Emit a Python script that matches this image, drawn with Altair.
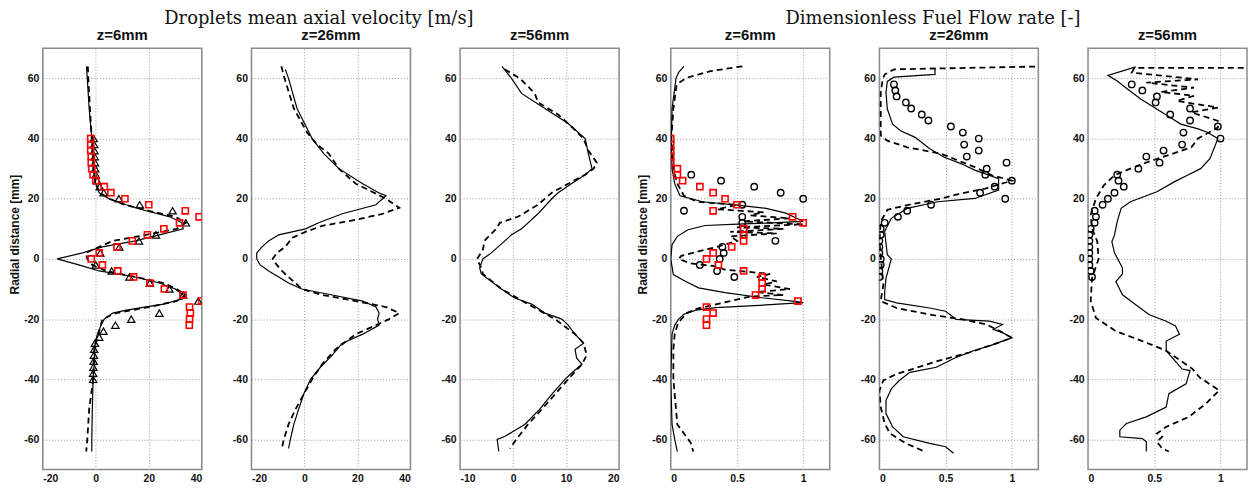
import altair as alt
import pandas as pd

# ---------------- Panel 1: droplet velocity, z=6mm ----------------
p1_solid_x = [-3.5, -3.2, -2.5, -1.5, -1, 0, 1.3, 5, 11.5, 19, 28, 32.5, 33, 24, 15, 2.5, -5, -14.6, -6.4, 1.3, 15, 24, 30, 33, 34, 25.5, 11.5, 6.4, 3.2, 2, 0.6, -0.3, -0.6, -1, -1.3, -1.5, -1.5]
p1_solid_y = [64, 60, 50, 40, 30, 25, 22, 20, 18, 16, 14, 12, 10, 8, 6, 4, 2, 0, -2, -4, -6, -8, -10, -12, -13, -15, -17, -18, -20, -22, -25, -28, -35, -40, -50, -60, -64]
p1_dash_x = [-3, -2.8, -2.2, -1.5, -0.8, 0, 1.5, 5, 11, 20, 30, 34, 30.5, 19, 6.4, 1.3, -3.8, -3.2, -1.3, 4, 15, 25.5, 30.5, 34, 30.5, 20, 7.6, 2.5, 1, -0.6, -1, -2.5, -3.2, -3.6]
p1_dash_y = [64, 60, 50, 40, 30, 25, 22, 20, 18, 16, 14, 12, 10, 8, 6, 4, 2, 0, -2, -4, -6, -8, -10, -12, -14, -16, -18, -20, -25, -30, -40, -50, -60, -64]
p1_tri_x = [-0.8, -0.6, -0.5, -0.4, -0.3, -0.2, 0, 0.5, 1.5, 3, 8.7, 16.6, 29, 34, 22.7, 16.3, 8.9, 1.7, 0, 6, 12.7, 20.4, 27.8, 33, 38.7, 24, 13.4, 7.4, 2.9, 1.3, -0.3, -0.6, -0.7, -0.8, -0.9, -1, -1]
p1_tri_y = [40, 38, 36, 34, 32, 30, 28, 26, 24, 22, 20, 18, 16, 12, 8, 6, 4, 2, -2, -4, -6, -8, -10, -12, -14, -18, -20, -22, -24, -26, -28, -30, -32, -34, -36, -38, -40]
p1_sq_x = [-1.9, -1.9, -1.9, -1.7, -1.7, -1.5, -1, 0, 3.2, 5.7, 11, 20, 33.8, 39, 31.6, 25.7, 19.5, 13.8, 8, 1.3, -1.7, 2.5, 8.3, 14.3, 20.4, 25.9, 32.9, 40, 35.4, 35.7, 35.4, 35.3]
p1_sq_y = [40, 38, 36, 34, 32, 30, 28, 26, 24, 22, 20, 18, 16, 14, 12, 10, 8, 6, 4, 2, 0, -2, -4, -6, -8, -10, -12, -14, -16, -18, -20, -22]

# ---------------- Panel 2: droplet velocity, z=26mm ----------------
p2_solid_x = [-7.2, -6, -2.8, 2.9, 7.3, 13, 22, 28, 30.8, 27, 14.3, 5.4, 0.4, -9.7, -13.5, -16, -18, -18, -16.7, -13.5, -9.7, -6, -1, 10.5, 22, 27, 28.2, 27.6, 28.2, 22, 14.3, 10.5, 6, 2.3, -0.3, -2.2, -4, -5.3, -6]
p2_solid_y = [63, 60, 50, 40, 35, 30, 25, 22, 21, 18, 15, 12, 10, 8, 6, 4, 2, 0, -2, -4, -6, -8, -10, -12, -14, -16, -18, -20, -22, -25, -28, -32, -36, -40, -45, -50, -55, -60, -63]
p2_dash_x = [-8.7, -7.5, -4, 1, 4.8, 9.2, 13, 19.4, 30.8, 35.8, 29.5, 19.4, 6.7, 0.4, -4.7, -7.2, -10.4, -12, -10.4, -8.5, -6, -3.4, -1, 6.7, 19.4, 30.8, 35.8, 32, 27, 19.4, 11.8, 6.7, 2.9, -0.3, -3.4, -6, -7.8, -8.5]
p2_dash_y = [64, 60, 50, 42, 38, 35, 30, 25, 20, 17, 15, 13, 11, 9, 7, 4, 2, 0, -2, -4, -6, -8, -10, -12, -14, -16, -18, -20, -22, -25, -30, -35, -40, -45, -50, -55, -60, -63]

# ---------------- Panel 3: droplet velocity, z=56mm ----------------
p3_solid_x = [-2.1, -0.3, 1.6, 6, 10.4, 12.3, 13.6, 14.2, 14.9, 13.6, 11, 8.5, 7.3, 4.7, 1.6, -0.3, -2.2, -4.1, -5.7, -6.3, -6, -2.2, 0.3, 3.5, 6, 9.2, 10.4, 11.7, 13.3, 11.7, 12, 13, 11, 9.8, 7.3, 5, 2.2, 0.3, -1.6, -3, -2.7]
p3_solid_y = [64, 60, 55, 50, 45, 42, 40, 35, 30, 28, 25, 22, 20, 15, 10, 8, 5, 2, 0, -3, -5, -10, -13, -15, -18, -20, -22, -25, -28, -30, -33, -35, -38, -40, -45, -50, -55, -57, -59, -60, -64]
p3_dash_x = [-1.6, 1.3, 4.1, 4.7, 8.5, 11, 13.3, 14.2, 15.8, 15.2, 13.6, 10.4, 7.3, 4.7, 0.9, -2.5, -3.2, -5.4, -5.7, -6.8, -6, -5.7, -2.2, 2.8, 7.9, 11.7, 13.3, 13.9, 13, 10.4, 7.9, 5.4, 2.8, 0.6, -0.6]
p3_dash_y = [63, 60, 55, 52, 48, 44, 40, 36, 32, 30, 28, 25, 22, 18, 14, 12, 10, 6, 3, 0, -3, -5, -10, -15, -20, -25, -28, -32, -35, -40, -45, -50, -55, -60, -63]

# ---------------- Panel 4: fuel flow rate, z=6mm ----------------
p4_solid_x = [0.1, 0.06, 0.04, 0.01, 0.005, 0.01, 0.03, 0.07, 0.24, 0.5, 0.72, 0.87, 0.95, 1.0, 0.72, 0.46, 0.26, 0.13, 0.05, 0.01, 0.0, 0.02, 0.11, 0.21, 0.41, 0.69, 0.92, 1.0, 0.72, 0.34, 0.19, 0.1, 0.06, 0.03, 0.01, 0.0, 0.01, 0.03, 0.05]
p4_solid_y = [64, 62, 60, 50, 40, 30, 25, 21, 19, 17.9, 16.8, 15.2, 13.5, 12.5, 11.9, 11.5, 11.1, 9.7, 7.5, 4.7, 0, -5.2, -7.4, -9.6, -11.2, -12.9, -14, -14.5, -15.3, -16.2, -17, -18.4, -20, -22, -25, -40, -55, -60, -64]
p4_dash_x = [0.54, 0.3, 0.12, 0.045, 0.02, 0.005, 0.02, 0.05, 0.1, 0.2, 0.5, 0.35, 0.7, 0.6, 0.9, 0.55, 1.0, 0.5, 0.85, 0.45, 0.8, 0.45, 0.5, 0.35, 0.25, 0.08, 0.06, 0.15, 0.35, 0.4, 0.75, 0.65, 0.8, 0.7, 0.9, 0.65, 0.85, 0.6, 0.45, 0.3, 0.2, 0.12, 0.08, 0.05, 0.03, 0.02, 0.02, 0.04, 0.05, 0.1, 0.15, 0.17]
p4_dash_y = [64, 62.4, 60.2, 58, 50, 40, 30, 25, 21, 19, 18, 16.5, 15.5, 14.5, 13.5, 12.5, 11.5, 10.5, 10, 9, 8.5, 7.5, 6, 4, 3, 1, 0, -1.5, -2.5, -3.5, -5, -6, -7.5, -8.5, -10, -11, -12, -12.5, -14, -15.5, -16.5, -18, -20, -22, -25, -30, -40, -50, -55, -58, -61, -64]
p4_sq_x = [0, 0, 0, 0, 0, 0.05, 0.05, 0.09, 0.22, 0.32, 0.41, 0.5, 0.32, 0.92, 1.0, 0.55, 0.55, 0.55, 0.46, 0.32, 0.27, 0.36, 0.55, 0.69, 0.69, 0.69, 0.64, 0.96, 0.27, 0.32, 0.27, 0.27]
p4_sq_y = [40, 38, 36, 34, 32, 30, 28, 26, 24, 22, 20, 18, 16, 14, 12, 10, 8, 6, 4, 2, 0, -2, -4, -6, -8, -10, -12, -14, -16, -18, -20, -22]
p4_circ_x = [0.155, 0.38, 0.63, 0.83, 1.0, 0.54, 0.1, 0.54, 0.54, 0.55, 0.55, 0.79, 0.39, 0.4, 0.37, 0.22, 0.35, 0.48]
p4_circ_y = [28, 26, 24, 22, 20, 18, 16, 14, 12, 10, 8, 6, 4, 2, 0, -2, -4, -6]

# ---------------- Panel 5: fuel flow rate, z=26mm ----------------
p5_solid_x = [0.42, 0.42, 0.11, 0.06, 0.05, 0.06, 0.1, 0.16, 0.27, 0.38, 0.49, 0.62, 0.72, 0.9, 0.9, 0.72, 0.44, 0.21, 0.09, 0.04, 0.06, 0.09, 0.05, 0.04, 0.04, 0.13, 0.38, 0.5, 0.58, 0.83, 0.93, 0.86, 0.93, 1.0, 0.83, 0.71, 0.58, 0.43, 0.23, 0.15, 0.09, 0.05, 0.05, 0.1, 0.18, 0.38, 0.5, 0.56]
p5_solid_y = [63.2, 61.3, 60.4, 59, 55.3, 49.8, 44.8, 42.6, 40.4, 36.6, 33.8, 31.6, 29.5, 26.7, 22.9, 20.1, 19, 16.8, 13.5, 9.1, 1.4, 0, -6.4, -10.8, -13.5, -14.6, -16.3, -17.4, -20.1, -20.7, -21.8, -23.4, -24.5, -26.2, -28.9, -30.5, -32.7, -36, -37.7, -40.4, -43.2, -47, -51.4, -55.8, -59.1, -61.3, -62.4, -64.6]
p5_dash_x = [1.25, 0.11, 0.04, 0.025, 0.01, 0.01, 0.01, 0.06, 0.21, 0.47, 0.72, 0.85, 1.0, 0.8, 0.62, 0.47, 0.21, 0.06, 0.01, 0.0, 0.03, 0.01, 0.13, 0.38, 0.63, 0.81, 0.91, 1.0, 0.86, 0.68, 0.45, 0.25, 0.13, 0.03, 0.0, 0.01, 0.04, 0.08, 0.2, 0.34]
p5_dash_y = [64, 63, 61.3, 59.7, 55.3, 44.3, 41, 39.3, 37.1, 34.9, 30.5, 27.8, 26, 23.4, 21.8, 20.1, 17.9, 16.3, 12.4, 5.8, -8.6, -14, -16.3, -18.5, -20.1, -21.8, -24, -26.2, -28.4, -31.1, -33.8, -36.6, -38.2, -40.4, -43.7, -49.2, -54.7, -58, -61.3, -64]
p5_circ_x = [0.11, 0.12, 0.13, 0.2, 0.24, 0.32, 0.37, 0.54, 0.63, 0.75, 0.64, 0.75, 0.66, 0.96, 0.81, 0.8, 1.0, 0.87, 0.76, 0.95, 0.39, 0.21, 0.14, 0.04, 0.01, 0.01, 0, 0, 0, 0.01, 0.01, 0.0, 0.0]
p5_circ_y = [58, 56, 54, 52, 50, 48, 46, 44, 42, 40, 38, 36, 34, 32, 30, 28, 26, 24, 22, 20, 18, 16, 14, 12, 10, 8, 6, 4, 2, 0, -2, -4, -6]

# ---------------- Panel 6: fuel flow rate, z=56mm ----------------
p6_solid_x = [0.36, 0.15, 0.22, 0.3, 0.4, 0.5, 0.6, 0.7, 0.83, 0.9, 0.98, 0.95, 0.92, 0.85, 0.75, 0.65, 0.52, 0.32, 0.25, 0.22, 0.2, 0.18, 0.2, 0.26, 0.26, 0.21, 0.26, 0.36, 0.46, 0.59, 0.66, 0.69, 0.59, 0.59, 0.71, 0.77, 0.74, 0.61, 0.59, 0.44, 0.29, 0.24, 0.24, 0.41, 0.44, 0.44]
p6_solid_y = [63.8, 61, 59.1, 56.4, 53.1, 50.3, 47.6, 44.8, 43.2, 42.1, 40, 36.6, 33.3, 30, 27.8, 25.6, 22.3, 19, 16.8, 12.4, 8, 5.7, 2, -3, -5, -7.5, -11.9, -15.2, -18.5, -20.7, -22.3, -25, -27.3, -30.5, -36.6, -37.1, -41.5, -44.8, -49.2, -52.5, -54.7, -56.9, -59.1, -59.7, -60.8, -64]
p6_dash_x = [1.25, 0.35, 0.33, 0.83, 0.44, 0.8, 0.55, 0.8, 0.67, 0.98, 0.78, 0.98, 0.98, 0.83, 0.78, 0.6, 0.45, 0.32, 0.2, 0.12, 0.06, 0.02, 0.03, 0.07, 0.08, 0.03, 0.02, 0.06, 0.21, 0.41, 0.59, 0.79, 0.84, 0.99, 0.89, 0.76, 0.59, 0.52, 0.56, 0.52, 0.56, 0.61]
p6_dash_y = [63.5, 63.5, 61.9, 59.7, 58.6, 56.9, 55.5, 54.2, 52.5, 50.3, 48.7, 45.9, 43.7, 40, 37.1, 34.4, 32.2, 30, 27.8, 24.5, 20.1, 14.6, 10.2, 5.8, 0, -6.4, -14, -19.6, -24, -27.3, -30.5, -36.6, -39.3, -43.7, -48.1, -52.5, -55.8, -58, -59.1, -60.8, -63, -64]
p6_circ_x = [0.33, 0.41, 0.52, 0.51, 0.77, 0.62, 0.77, 0.98, 0.72, 1.0, 0.71, 0.57, 0.44, 0.54, 0.38, 0.22, 0.23, 0.27, 0.2, 0.15, 0.11, 0.05, 0.06, 0.05, 0.02, 0.01, 0.01, 0.01, 0.01, 0.01, 0.01, 0.02, 0.03]
p6_circ_y = [58, 56, 54, 52, 50, 48, 46, 44, 42, 40, 38, 36, 34, 32, 30, 28, 26, 24, 22, 20, 18, 16, 14, 12, 10, 8, 6, 4, 2, 0, -2, -4, -6]

# ---------------- Axes / labels ----------------
vel_ticks_a = [-20, 0, 20, 40]
vel_ticks_b = [-10, 0, 10, 20]
flow_ticks = [0, 0.5, 1]
y_ticks = [-60, -40, -20, 0, 20, 40, 60]
titles = ["z=6mm", "z=26mm", "z=56mm", "z=6mm", "z=26mm", "z=56mm"]
super_titles = ["Droplets mean axial velocity [m/s]", "Dimensionless Fuel Flow rate [-]"]
y_title = "Radial distance [mm]"

SANS = "Liberation Sans"
W, H = 160, 424
LABEL_EXPR = "replace(datum.label, '\u2212', '-')"


def df_of(xs, ys):
    return pd.DataFrame({"x": xs, "y": ys, "i": list(range(len(xs)))})


def panel(solid, dashed, xdom, xticks, title, ytitle=None, tri=None, sq=None, circ=None):
    xenc = alt.X("x:Q", scale=alt.Scale(domain=xdom, nice=False, zero=False),
                 axis=alt.Axis(values=xticks, format=".2~f", labelExpr=LABEL_EXPR, title=None))
    yaxis_kw = dict(values=y_ticks, format=".0f", labelExpr=LABEL_EXPR)
    if ytitle:
        yaxis_kw.update(title=ytitle, titleFont=SANS, titleFontSize=12, titleFontWeight="bold",
                        titleColor="#111", titlePadding=2, titleY=187)
    else:
        yaxis_kw.update(title=None)
    yenc = alt.Y("y:Q", scale=alt.Scale(domain=[-70, 70], nice=False, zero=False),
                 axis=alt.Axis(**yaxis_kw))
    layers = [
        alt.Chart(df_of(*solid)).mark_line(color="black", strokeWidth=1.2, clip=True)
        .encode(x=xenc, y=yenc, order="i:Q"),
        alt.Chart(df_of(*dashed)).mark_line(color="black", strokeWidth=1.8, strokeDash=[6, 4], clip=True)
        .encode(x=xenc, y=yenc, order="i:Q"),
    ]
    if tri is not None:
        layers.append(alt.Chart(df_of(*tri)).mark_point(shape="triangle-up", filled=False, color="black",
                                                         size=55, strokeWidth=1.2, opacity=1, clip=True)
                      .encode(x=xenc, y=yenc))
    if circ is not None:
        layers.append(alt.Chart(df_of(*circ)).mark_point(shape="circle", filled=False, color="black",
                                                          size=42, strokeWidth=1.4, opacity=1, clip=True)
                      .encode(x=xenc, y=yenc))
    if sq is not None:
        layers.append(alt.Chart(df_of(*sq)).mark_point(shape="square", filled=False, color="#ff0000",
                                                        size=38, strokeWidth=1.6, opacity=1, clip=True)
                      .encode(x=xenc, y=yenc))
    return alt.layer(*layers).properties(
        width=W, height=H,
        title=alt.TitleParams(text=title, font=SANS, fontSize=15, fontWeight="bold", color="#111", offset=5),
    )


p1 = panel((p1_solid_x, p1_solid_y), (p1_dash_x, p1_dash_y), [-20, 40], vel_ticks_a, titles[0], y_title,
           tri=(p1_tri_x, p1_tri_y), sq=(p1_sq_x, p1_sq_y))
p2 = panel((p2_solid_x, p2_solid_y), (p2_dash_x, p2_dash_y), [-20, 40], vel_ticks_a, titles[1])
p3 = panel((p3_solid_x, p3_solid_y), (p3_dash_x, p3_dash_y), [-10, 20], vel_ticks_b, titles[2])
p4 = panel((p4_solid_x, p4_solid_y), (p4_dash_x, p4_dash_y), [0, 1.2], flow_ticks, titles[3], y_title,
           sq=(p4_sq_x, p4_sq_y), circ=(p4_circ_x, p4_circ_y))
p5 = panel((p5_solid_x, p5_solid_y), (p5_dash_x, p5_dash_y), [0, 1.2], flow_ticks, titles[4],
           circ=(p5_circ_x, p5_circ_y))
p6 = panel((p6_solid_x, p6_solid_y), (p6_dash_x, p6_dash_y), [0, 1.2], flow_ticks, titles[5],
           circ=(p6_circ_x, p6_circ_y))

g1 = alt.hconcat(p1, p2, p3, spacing=50, bounds="flush",
                 title=alt.TitleParams(text=super_titles[0], font="DejaVu Serif", fontSize=18,
                                       fontWeight="normal", color="#111", anchor="middle", dx=5, offset=0))
g2 = alt.hconcat(p4, p5, p6, spacing=50, bounds="flush",
                 title=alt.TitleParams(text=super_titles[1], font="DejaVu Serif", fontSize=18,
                                       fontWeight="normal", color="#111", anchor="middle", dx=-9, offset=0))

chart = alt.hconcat(g1, g2, spacing=16).properties(
    padding={"left": 0, "top": 0, "right": 0, "bottom": 0}
).configure_view(
    stroke="#8a8a8a", strokeWidth=1.5
).configure_axis(
    labelFont=SANS, labelFontSize=10.5, labelFontWeight="bold", labelColor="#111",
    ticks=False, tickSize=0, domain=False, labelPadding=4,
    grid=True, gridColor="#9a9a9a", gridDash=[1, 2], gridWidth=1,
)

chart.save("out.html", embed_options={"renderer": "svg", "actions": False})
